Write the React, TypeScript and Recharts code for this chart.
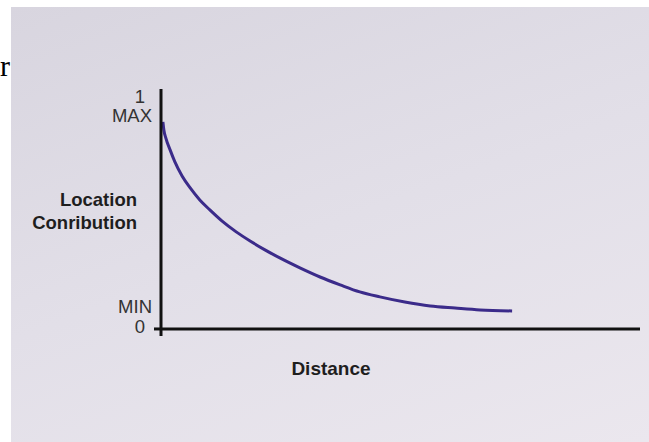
import React from "react";
import { LineChart, Line, XAxis, YAxis, ReferenceLine } from "recharts";

// distance (0..100 along the axis) and contribution (1 = max)
const distance = [0.4, 0.6, 1.0, 1.9, 2.9, 4.4, 6.1, 8.1, 10.2, 12.7, 15.7, 18.6, 21.7, 24.8, 29.0, 33.2, 37.4, 41.5, 45.7, 50.9, 56.2, 61.4, 66.6, 73.3];
const contribution = [1.0, 0.961, 0.923, 0.865, 0.807, 0.739, 0.681, 0.623, 0.575, 0.522, 0.469, 0.425, 0.382, 0.343, 0.295, 0.251, 0.213, 0.179, 0.155, 0.13, 0.111, 0.101, 0.092, 0.087];

const yTicks = [0, 1];
const tickNumbers = ["0", "1"];
const tickWords = ["MIN", "MAX"];
const yTitle = ["Location", "Conribution"];
const xTitle = "Distance";

const data = distance.map((d, i) => ({ d, c: contribution[i] }));

const W = 649;
const H = 442;
const AXIS_X = 161;
const SANS = "'Liberation Sans', Arial, Helvetica, sans-serif";

const YTick = (props: any) => {
  const { y, payload } = props;
  const i = yTicks.indexOf(payload.value);
  const isMin = i === 0;
  return (
    <g fontFamily={SANS} fontSize={18.5}>
      {isMin && <line x1={AXIS_X - 7} x2={AXIS_X} y1={y} y2={y} stroke="#111" strokeWidth={3} />}
      <text x={AXIS_X - 16} y={isMin ? y + 4 : y - 19} textAnchor="end" fill="#333">
        {tickNumbers[i]}
      </text>
      <text x={AXIS_X - 9} y={isMin ? y - 16 : y} textAnchor="end" fill="#333">
        {tickWords[i]}
      </text>
    </g>
  );
};

export default function App() {
  return (
    <div style={{ position: "absolute", left: 0, top: 0, width: W, height: H, background: "#fff" }}>
      <div
        style={{
          position: "absolute",
          left: 11,
          top: 7,
          width: W - 11,
          height: H - 7,
          background: "linear-gradient(160deg, #d8d5df 0%, #e2dfe8 50%, #ebe7ee 100%)",
        }}
      />
      <div
        style={{
          position: "absolute",
          left: 0,
          top: 48,
          fontFamily: "'Liberation Serif', 'Times New Roman', serif",
          fontSize: 30,
          lineHeight: "36px",
          color: "#000",
        }}
      >
        r
      </div>
      <div style={{ position: "absolute", left: 0, top: 0 }}>
        <LineChart width={W} height={H} data={data} margin={{ top: 89, right: 9, bottom: 106, left: 0 }}>
          <XAxis dataKey="d" type="number" domain={[0, 100]} hide />
          <YAxis
            type="number"
            domain={[-0.034, 1.159]}
            ticks={yTicks}
            width={AXIS_X}
            tickLine={false}
            axisLine={{ stroke: "#111", strokeWidth: 3 }}
            tick={<YTick />}
            allowDataOverflow
          />
          <ReferenceLine y={0} stroke="#111" strokeWidth={3} />
          <Line
            type="monotone"
            dataKey="c"
            stroke="#3b2b8a"
            strokeWidth={3}
            dot={false}
            isAnimationActive={false}
          />
          <text x={137} y={206} textAnchor="end" fontFamily={SANS} fontWeight="bold" fontSize={18.5} fill="#1e1e1e">
            {yTitle[0]}
          </text>
          <text x={137} y={229} textAnchor="end" fontFamily={SANS} fontWeight="bold" fontSize={18.5} fill="#1e1e1e">
            {yTitle[1]}
          </text>
          <text x={331} y={375} textAnchor="middle" fontFamily={SANS} fontWeight="bold" fontSize={19} fill="#1e1e1e">
            {xTitle}
          </text>
        </LineChart>
      </div>
    </div>
  );
}
